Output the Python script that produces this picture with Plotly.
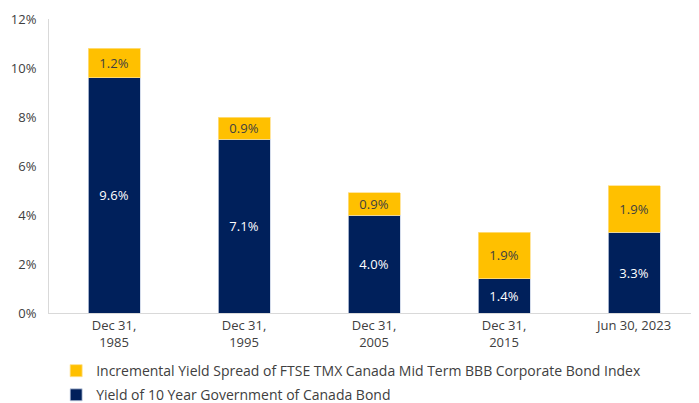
import plotly.graph_objects as go

categories = ["Dec 31,<br>1985", "Dec 31,<br>1995", "Dec 31,<br>2005", "Dec 31,<br>2015", "Jun 30, 2023"]
gov_yield = [9.6, 7.1, 4.0, 1.4, 3.3]
bbb_spread = [1.2, 0.9, 0.9, 1.9, 1.9]
y_ticks = [0, 2, 4, 6, 8, 10, 12]

NAVY = "#00205B"
GOLD = "#FFC000"
FONT = "Open Sans"
TXT = "#404040"

fig = go.Figure()
fig.add_trace(go.Bar(
    x=categories, y=gov_yield,
    name="Yield of 10 Year Government of Canada Bond",
    legendgroup="gov", legendrank=2,
    marker=dict(color=NAVY, line=dict(color="#C9D3E6", width=0.8)),
    text=[f"{v:.1f}%" for v in gov_yield], textposition="inside",
    insidetextanchor="middle", textangle=0,
    textfont=dict(color="white", size=13, family=FONT),
))
fig.add_trace(go.Bar(
    x=categories, y=bbb_spread,
    name="Incremental Yield Spread of FTSE TMX Canada Mid Term BBB Corporate Bond Index",
    legendgroup="bbb", legendrank=1,
    marker=dict(color=GOLD, line=dict(color="#FFE08A", width=0.8)),
    text=[f"{v:.1f}%" for v in bbb_spread], textposition="inside",
    insidetextanchor="middle", textangle=0,
    textfont=dict(color=TXT, size=13, family=FONT),
))

# the page body adds an 8px margin, so the figure is sized to the visible area
fig.update_layout(
    width=691, height=395,
    barmode="stack", bargap=0.6,
    margin=dict(l=41, r=0, t=11, b=90, autoexpand=False),
    plot_bgcolor="white", paper_bgcolor="white",
    font=dict(family=FONT, size=13, color=TXT),
    uniformtext=dict(minsize=13, mode="show"),
    xaxis=dict(showline=True, linecolor="#D9D9D9", linewidth=1, ticks="",
               automargin=False, tickfont=dict(size=13, color=TXT)),
    yaxis=dict(range=[0, 12], tickvals=y_ticks, ticktext=[f"{t}%" for t in y_ticks],
               showgrid=False, showline=True, linecolor="#D9D9D9", linewidth=1,
               zeroline=False, ticks="", automargin=False, ticklabelstandoff=9,
               tickfont=dict(size=13, color=TXT)),
    legend=dict(orientation="v", traceorder="grouped", x=0.011, y=-0.143,
                xanchor="left", yanchor="top", font=dict(size=14, color=TXT),
                itemwidth=30, tracegroupgap=3, bgcolor="rgba(0,0,0,0)"),
    showlegend=True,
)

fig.write_html("out.html")
